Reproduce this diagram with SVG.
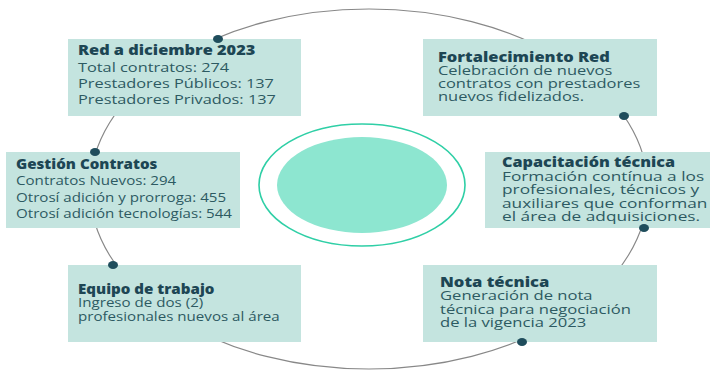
<svg xmlns="http://www.w3.org/2000/svg" width="710" height="370" viewBox="0 0 710 370">
<style>
.box{fill:#c4e4df}
.dot{fill:#1f4d5c}
.t{font-family:"Open Sans",sans-serif;font-size:13.5px;font-weight:800;fill:#1d4654}
.b{font-family:"Open Sans",sans-serif;font-size:13.5px;fill:#2d5a62}
.ring{fill:none;stroke:#888;stroke-width:1.2}
</style>
<rect width="710" height="370" fill="#ffffff"/>
<g id="connectors">
<ellipse class="ring" cx="369" cy="189" rx="279" ry="180"/>
</g>
<g id="center">
<ellipse cx="362" cy="185" rx="103" ry="61" fill="none" stroke="#2fcfa6" stroke-width="1.6"/>
<ellipse cx="362" cy="185" rx="85" ry="48" fill="#8de6d0"/>
</g>
<g id="red">
<rect class="box" x="68" y="39" width="233" height="77"/>
<ellipse class="dot" cx="218" cy="39" rx="5" ry="4"/>
<g transform="translate(78,0) scale(1.21,1)">
<text class="t" x="0" y="55">Red a diciembre 2023</text>
<text class="b" x="0" y="72">Total contratos: 274</text>
<text class="b" x="0" y="88">Prestadores Públicos: 137</text>
<text class="b" x="0" y="104">Prestadores Privados: 137</text>
</g>
</g>
<g id="gestion">
<rect class="box" x="6" y="152" width="234" height="76"/>
<ellipse class="dot" cx="95" cy="152" rx="5" ry="4"/>
<g transform="translate(16,0) scale(1.12,1)">
<text class="t" x="0" y="169">Gestión Contratos</text>
<text class="b" x="0" y="185">Contratos Nuevos: 294</text>
<text class="b" x="0" y="202">Otrosí adición y prorroga: 455</text>
<text class="b" x="0" y="218">Otrosí adición tecnologías: 544</text>
</g>
</g>
<g id="equipo">
<rect class="box" x="68" y="265" width="233" height="77"/>
<ellipse class="dot" cx="113" cy="265" rx="5" ry="4"/>
<g transform="translate(78,0) scale(1.12,1)">
<text class="t" x="0" y="294">Equipo de trabajo</text>
<text class="b" x="0" y="307">Ingreso de dos (2)</text>
<text class="b" x="0" y="321">profesionales nuevos al área</text>
</g>
</g>
<g id="fortalecimiento">
<rect class="box" x="423" y="39" width="234" height="77"/>
<ellipse class="dot" cx="624" cy="116" rx="5" ry="4"/>
<g transform="translate(438,0) scale(1.22,1)">
<text class="t" x="0" y="62">Fortalecimiento Red</text>
<text class="b" x="0" y="75">Celebración de nuevos</text>
<text class="b" x="0" y="88">contratos con prestadores</text>
<text class="b" x="0" y="101">nuevos fidelizados.</text>
</g>
</g>
<g id="capacitacion">
<rect class="box" x="485" y="152" width="225" height="76"/>
<ellipse class="dot" cx="644" cy="228" rx="5" ry="4"/>
<g transform="translate(502,0) scale(1.2,1)">
<text class="t" x="0" y="167">Capacitación técnica</text>
</g>
<g transform="translate(502,0) scale(1.28,1)">
<text class="b" x="0" y="181">Formación contínua a los</text>
<text class="b" x="0" y="194.5">profesionales, técnicos y</text>
<text class="b" x="0" y="208">auxiliares que conforman</text>
<text class="b" x="0" y="221.5">el área de adquisiciones.</text>
</g>
</g>
<g id="nota">
<rect class="box" x="423" y="265" width="234" height="77"/>
<ellipse class="dot" cx="522" cy="342" rx="5" ry="4"/>
<g transform="translate(440,0) scale(1.23,1)">
<text class="t" x="0" y="287">Nota técnica</text>
<text class="b" x="0" y="300">Generación de nota</text>
<text class="b" x="0" y="314">técnica para negociación</text>
<text class="b" x="0" y="327">de la vigencia 2023</text>
</g>
</g>
</svg>
